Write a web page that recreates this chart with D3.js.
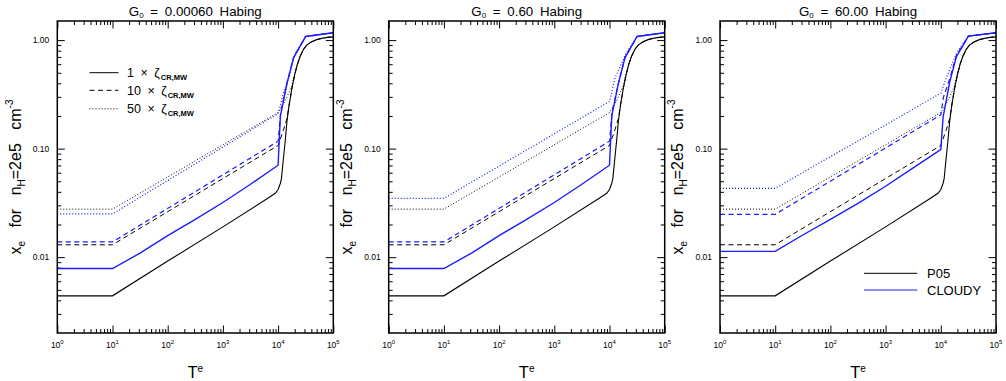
<!DOCTYPE html>
<html>
<head>
<meta charset="utf-8">
<script src="https://cdn.jsdelivr.net/npm/d3@7"></script>
<style>
  html, body { margin: 0; padding: 0; background: #fff; }
  svg text { font-family: "Liberation Sans", Arial, Helvetica, sans-serif; white-space: pre; fill: #000; }
</style>
</head>
<body>
<svg id="chart" width="1006" height="381"></svg>
<script>
// ---- data -------------------------------------------------------------
// panel titles: FUV field strength G0 (Habing)
const G0_LABELS = ["0.00060", "0.60", "60.00"];
// legend entries
const CR_FACTORS = ["1", "10", "50"];
const MODEL_NAMES = ["P05", "CLOUDY"];
// axis ticks
const X_MAJOR = [1, 10, 100, 1000, 10000, 100000];
const X_EXP = ["0", "1", "2", "3", "4", "5"];
const Y_MAJOR = [0.01, 0.1, 1];
const Y_LABELS = ["0.01", "0.10", "1.00"];

// P05 electron fraction vs temperature (same for every G0)
const T_P05_1 = [1, 10, 100, 1000, 6300, 8900, 10000, 11000, 11500, 12600, 13500, 14500, 15800, 17800, 20000, 22400, 25100, 28800, 33000, 39800, 50000, 63000, 79000, 100000];
const xe_P05_1 = [0.0044, 0.0044, 0.0092, 0.0190, 0.0345, 0.0388, 0.042, 0.048, 0.053, 0.085, 0.12, 0.18, 0.25, 0.36, 0.48, 0.60, 0.71, 0.82, 0.90, 0.96, 1.01, 1.04, 1.06, 1.07];
const T_P05_10 = [1, 10, 10000, 12600, 14500, 15800, 17800, 20000, 22400, 25100, 28800, 33000, 39800, 50000, 63000, 79000, 100000];
const xe_P05_10 = [0.013, 0.013, 0.107, 0.15, 0.19, 0.25, 0.36, 0.48, 0.60, 0.71, 0.82, 0.90, 0.96, 1.01, 1.04, 1.06, 1.07];
const T_P05_50 = [1, 10, 10000, 12600, 14500, 17800, 19100, 21900, 25100, 28800, 33000, 39800, 50000, 63000, 79000, 100000];
const xe_P05_50 = [0.0277, 0.0277, 0.215, 0.26, 0.30, 0.38, 0.45, 0.58, 0.71, 0.82, 0.90, 0.96, 1.01, 1.04, 1.06, 1.07];

// CLOUDY runs
const T_CLOUDY_1 = [1, 10, 31.6, 100, 316, 1000, 3160, 10000, 11000, 14500, 19100, 31600, 100000];
const T_CLOUDY_10 = [1, 10, 10000, 11200, 14500, 19100, 31600, 100000];
const T_CLOUDY_50 = [1, 10, 10000, 12600, 15800, 20000, 31600, 100000];

const xe_CLOUDY_1_lowG = [0.00786, 0.00786, 0.0109, 0.0158, 0.0223, 0.0319, 0.047, 0.0703, 0.20, 0.40, 0.69, 1.08, 1.17];
const xe_CLOUDY_10_lowG = [0.0138, 0.0138, 0.117, 0.22, 0.40, 0.69, 1.08, 1.17];
const xe_CLOUDY_50_lowG = [0.025, 0.025, 0.21, 0.33, 0.47, 0.74, 1.08, 1.17];

const xe_CLOUDY_1_midG = [0.00786, 0.00786, 0.0109, 0.0158, 0.0223, 0.0319, 0.047, 0.0703, 0.20, 0.40, 0.69, 1.08, 1.17];
const xe_CLOUDY_10_midG = [0.0138, 0.0138, 0.117, 0.22, 0.40, 0.69, 1.08, 1.17];
const xe_CLOUDY_50_midG = [0.0348, 0.0348, 0.272, 0.45, 0.58, 0.76, 1.08, 1.17];

const xe_CLOUDY_1_highG = [0.0113, 0.0113, 0.016, 0.0223, 0.0313, 0.045, 0.0665, 0.098, 0.195, 0.41, 0.70, 1.09, 1.17];
const xe_CLOUDY_10_highG = [0.0248, 0.0248, 0.205, 0.30, 0.44, 0.72, 1.09, 1.17];
const xe_CLOUDY_50_highG = [0.043, 0.043, 0.324, 0.45, 0.60, 0.78, 1.09, 1.17];

// ---- layout -----------------------------------------------------------
const PANEL_LEFT = [57.3, 388.7, 720];
const PANEL_W = 276, TOP = 21, BOTTOM = 333;
const BLUE = "#1c1cff";
const DASH = ["none", "5,3.5", "1,2"];

const svg = d3.select("#chart");

function zip(T, v) { return T.map((t, i) => [t, v[i]]); }

const p05Series = [zip(T_P05_1, xe_P05_1), zip(T_P05_10, xe_P05_10), zip(T_P05_50, xe_P05_50)];
const cloudySeries = [
  [zip(T_CLOUDY_1, xe_CLOUDY_1_lowG), zip(T_CLOUDY_10, xe_CLOUDY_10_lowG), zip(T_CLOUDY_50, xe_CLOUDY_50_lowG)],
  [zip(T_CLOUDY_1, xe_CLOUDY_1_midG), zip(T_CLOUDY_10, xe_CLOUDY_10_midG), zip(T_CLOUDY_50, xe_CLOUDY_50_midG)],
  [zip(T_CLOUDY_1, xe_CLOUDY_1_highG), zip(T_CLOUDY_10, xe_CLOUDY_10_highG), zip(T_CLOUDY_50, xe_CLOUDY_50_highG)]
];

// rich text helper: segments with font size and vertical shift
function rich(textSel, segs) {
  let cur = 0;
  segs.forEach(s => {
    const sh = s.shift || 0;
    const ts = textSel.append("tspan").attr("dy", sh - cur).attr("font-size", s.size).text(s.t);
    if (s.weight) ts.attr("font-weight", s.weight);
    if (s.dx) ts.attr("dx", s.dx);
    cur = sh;
  });
  return textSel;
}

// minor tick values for a log range
function minors(lo, hi) {
  const out = [];
  for (let e = Math.floor(Math.log10(lo)); e <= Math.ceil(Math.log10(hi)); e++) {
    for (let m = 2; m <= 9; m++) {
      const v = m * Math.pow(10, e);
      if (v > lo * 1.0001 && v < hi * 0.9999) out.push(v);
    }
  }
  return out;
}

PANEL_LEFT.forEach((left, pi) => {
  const x = d3.scaleLog().domain([1, 1e5]).range([left, left + PANEL_W]);
  const y = d3.scaleLog().domain([0.002, 1.5]).range([BOTTOM, TOP]);
  const g = svg.append("g");

  const xMin = minors(1, 1e5), yMin = minors(0.002, 1.5);
  const axisDefs = [
    [d3.axisBottom(x).tickValues(X_MAJOR).tickSize(-7.5), `translate(0,${BOTTOM})`],
    [d3.axisBottom(x).tickValues(xMin).tickSize(-4), `translate(0,${BOTTOM})`],
    [d3.axisTop(x).tickValues(X_MAJOR).tickSize(-7.5), `translate(0,${TOP})`],
    [d3.axisTop(x).tickValues(xMin).tickSize(-4), `translate(0,${TOP})`],
    [d3.axisLeft(y).tickValues(Y_MAJOR).tickSize(-7.5), `translate(${left},0)`],
    [d3.axisLeft(y).tickValues(yMin).tickSize(-4), `translate(${left},0)`],
    [d3.axisRight(y).tickValues(Y_MAJOR).tickSize(-7.5), `translate(${left + PANEL_W},0)`],
    [d3.axisRight(y).tickValues(yMin).tickSize(-4), `translate(${left + PANEL_W},0)`]
  ];
  axisDefs.forEach(([ax, tr]) => {
    const a = g.append("g").attr("transform", tr).call(ax.tickFormat(""));
    a.select(".domain").remove();
    a.selectAll("line").attr("stroke", "#000").attr("stroke-width", 1);
  });

  // curves
  const line = d3.line().x(d => x(d[0])).y(d => y(d[1]));
  const plot = g.append("g").attr("fill", "none");
  p05Series.forEach((s, k) => {
    plot.append("path").attr("d", line(s)).attr("stroke", "#000")
      .attr("stroke-width", k === 0 ? 1.1 : 1).attr("stroke-dasharray", DASH[k]);
  });
  cloudySeries[pi].forEach((s, k) => {
    plot.append("path").attr("d", line(s)).attr("stroke", BLUE)
      .attr("stroke-width", k === 0 ? 1.4 : 1.2).attr("stroke-dasharray", DASH[k]);
  });

  // frame
  g.append("rect").attr("x", left).attr("y", TOP).attr("width", PANEL_W).attr("height", BOTTOM - TOP)
    .attr("fill", "none").attr("stroke", "#000").attr("stroke-width", 1.5);

  // x tick labels 10^n
  X_MAJOR.forEach((v, i) => {
    const t = g.append("text").attr("x", x(v)).attr("y", 347.5).attr("text-anchor", "middle");
    rich(t, [{ t: "10", size: 8.5 }, { t: X_EXP[i], size: 6, shift: -3.5 }]);
  });
  // y tick labels
  Y_MAJOR.forEach((v, i) => {
    g.append("text").attr("x", left - 8).attr("y", y(v) + 3).attr("text-anchor", "end")
      .attr("font-size", 8.5).text(Y_LABELS[i]);
  });

  // title
  const title = g.append("text").attr("x", left + PANEL_W / 2).attr("y", 15.5)
    .attr("text-anchor", "middle").attr("word-spacing", 3);
  rich(title, [{ t: "G", size: 13.3 }, { t: "0", size: 8, shift: 2.5 },
               { t: " = " + G0_LABELS[pi] + " Habing", size: 13.3, shift: 0 }]);

  // x axis title
  const xt = g.append("text").attr("x", left + PANEL_W / 2).attr("y", 378).attr("text-anchor", "middle");
  rich(xt, [{ t: "T", size: 16.5 }, { t: "e", size: 10, shift: -6 }]);

  // y axis title
  const yt = g.append("text").attr("transform", `translate(${left - 36.6},${(TOP + BOTTOM) / 2}) rotate(-90)`)
    .attr("text-anchor", "middle").attr("word-spacing", 9);
  rich(yt, [{ t: "x", size: 16 }, { t: "e", size: 10, shift: 4 },
            { t: " for n", size: 16, shift: 0 }, { t: "H", size: 10, shift: 4 },
            { t: "=2e5 cm", size: 16, shift: 0 }, { t: "-3", size: 10, shift: -8 }]);
});

// legend: cosmic-ray rate (first panel)
{
  const rows = [72.7, 90.3, 108.8];
  const g = svg.append("g");
  CR_FACTORS.forEach((f, k) => {
    g.append("line").attr("x1", 89.5).attr("x2", 118.5).attr("y1", rows[k]).attr("y2", rows[k])
      .attr("stroke", "#000").attr("stroke-width", 1).attr("stroke-dasharray", DASH[k]);
    const t = g.append("text").attr("x", 127).attr("y", rows[k] + 4.5).attr("word-spacing", 3);
    rich(t, [{ t: f + " × ζ", size: 12.5 }, { t: "CR,MW", size: 7.5, shift: 3, weight: "bold", dx: 1 }]);
  });
}

// legend: model (last panel)
{
  const rows = [273.3, 290];
  const cols = ["#000", BLUE];
  const g = svg.append("g");
  MODEL_NAMES.forEach((m, k) => {
    g.append("line").attr("x1", 864).attr("x2", 917.3).attr("y1", rows[k]).attr("y2", rows[k])
      .attr("stroke", cols[k]).attr("stroke-width", 1);
    g.append("text").attr("x", 927).attr("y", rows[k] + 4.8).attr("font-size", 13).text(m);
  });
}
</script>
</body>
</html>
